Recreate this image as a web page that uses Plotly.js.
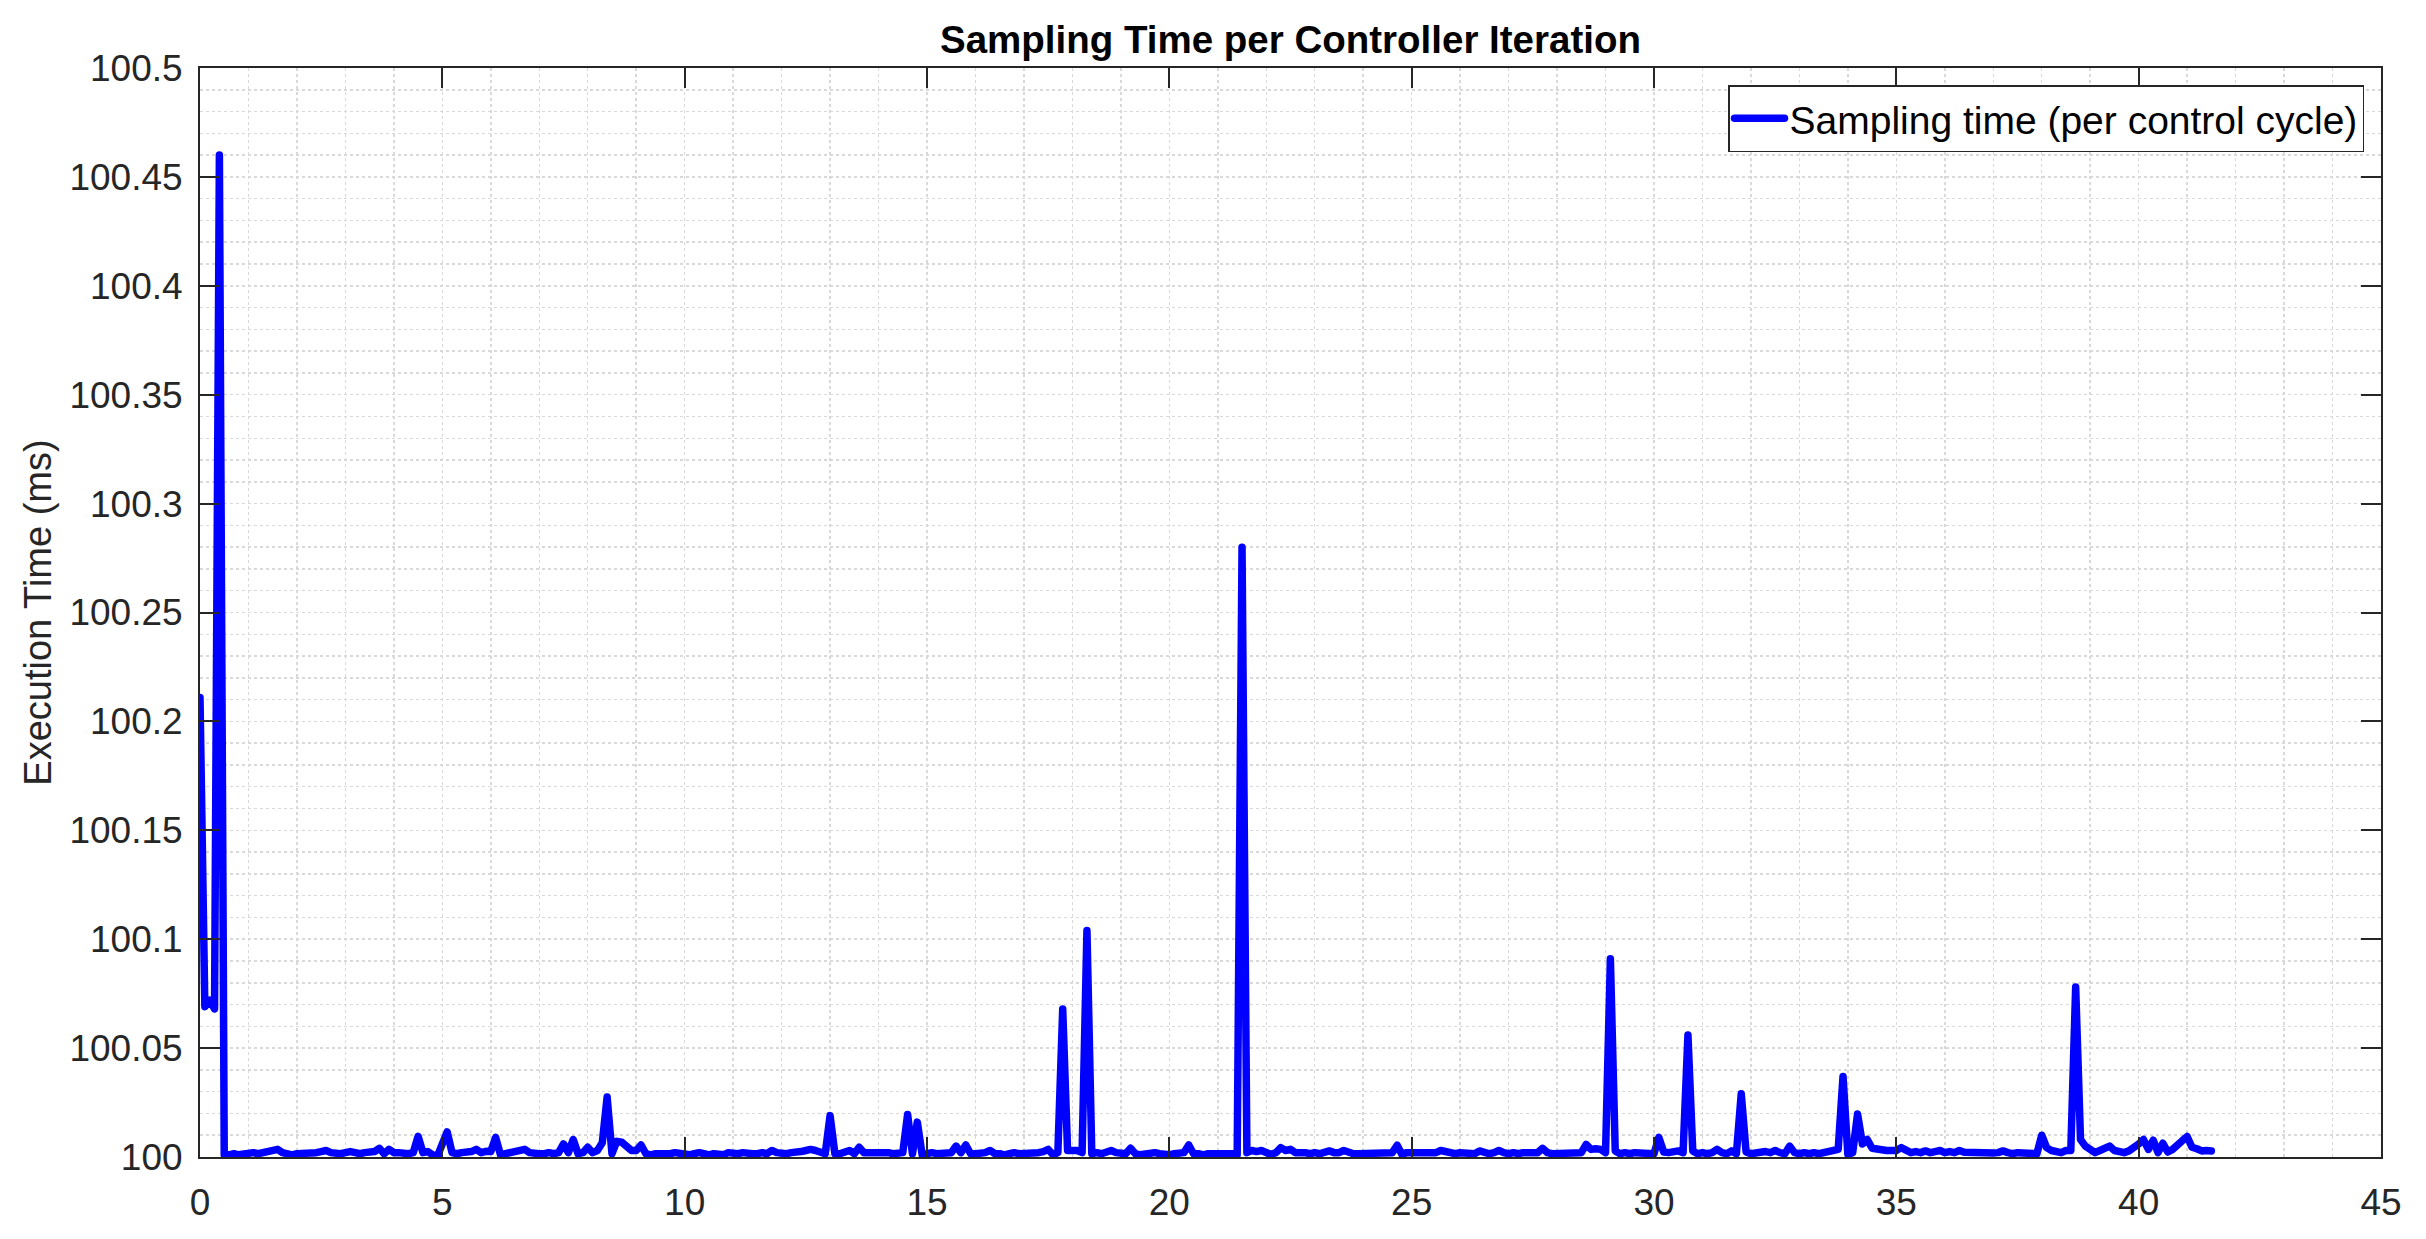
<!DOCTYPE html>
<html>
<head>
<meta charset="utf-8">
<title>Sampling Time per Controller Iteration</title>
<script src="https://cdn.plot.ly/plotly-3.0.1.min.js"></script>
<style>
  html, body { margin: 0; padding: 0; background: #fff; }
  #chart { width: 2426px; height: 1239px; }
  /* matlab draws thick lines with rounded joins */
  #chart path.js-line { stroke-linejoin: round; stroke-linecap: round; }
</style>
</head>
<body>
<div id="chart"></div>
<script>
// controller runs every 100 ms, one sample per cycle
const samplePeriod = 0.1;

// sampling time per control cycle (ms), 10 samples per line
const samplingTime = [
  100.211, 100.069, 100.072, 100.068, 100.460, 100.001, 100.001, 100.0015, 100.001, 100.0015,
  100.0015, 100.002, 100.0015, 100.002, 100.002, 100.0025, 100.0035, 100.002, 100.0015, 100.001,
  100.0015, 100.0015, 100.002, 100.0015, 100.002, 100.0025, 100.003, 100.002, 100.0015, 100.0015,
  100.002, 100.0025, 100.002, 100.0015, 100.002, 100.002, 100.0025, 100.004, 100.0015, 100.0035,
  100.002, 100.002, 100.0015, 100.0015, 100.002, 100.0095, 100.002, 100.0025, 100.001, 100.0005,
  100.006, 100.0115, 100.002, 100.0015, 100.002, 100.002, 100.0025, 100.0035, 100.002, 100.0026,
  100.0025, 100.009, 100.001, 100.0015, 100.002, 100.002, 100.0025, 100.0035, 100.002, 100.0015,
  100.0015, 100.0015, 100.002, 100.0015, 100.002, 100.006, 100.002, 100.008, 100.0015, 100.002,
  100.0045, 100.002, 100.003, 100.0065, 100.0275, 100.0015, 100.0072, 100.0068, 100.0044, 100.003,
  100.003, 100.0055, 100.0015, 100.001, 100.0015, 100.0015, 100.001, 100.0015, 100.002, 100.0015,
  100.0015, 100.001, 100.0015, 100.002, 100.0015, 100.001, 100.0015, 100.0015, 100.001, 100.002,
  100.0015, 100.0015, 100.002, 100.0015, 100.0015, 100.0015, 100.002, 100.0015, 100.003, 100.002,
  100.0015, 100.0015, 100.002, 100.002, 100.0025, 100.003, 100.0035, 100.003, 100.002, 100.0015,
  100.019, 100.0015, 100.0015, 100.002, 100.003, 100.0015, 100.0045, 100.002, 100.002, 100.002,
  100.0025, 100.002, 100.002, 100.0015, 100.002, 100.002, 100.0195, 100.0015, 100.016, 100.001,
  100.0015, 100.002, 100.0015, 100.0015, 100.002, 100.002, 100.005, 100.002, 100.0055, 100.0015,
  100.0015, 100.0015, 100.002, 100.003, 100.0015, 100.0015, 100.001, 100.0015, 100.002, 100.0015,
  100.0015, 100.002, 100.0015, 100.002, 100.0025, 100.0035, 100.001, 100.002, 100.068, 100.003,
  100.003, 100.003, 100.002, 100.104, 100.0015, 100.002, 100.0015, 100.002, 100.003, 100.002,
  100.002, 100.0015, 100.004, 100.0015, 100.001, 100.0015, 100.0015, 100.002, 100.0015, 100.001,
  100.001, 100.0015, 100.0015, 100.002, 100.0055, 100.0015, 100.0015, 100.001, 100.0015, 100.0015,
  100.0015, 100.0015, 100.002, 100.0015, 100.001, 100.280, 100.002, 100.003, 100.0025, 100.003,
  100.002, 100.0012, 100.002, 100.0043, 100.003, 100.0035, 100.002, 100.0022, 100.002, 100.0015,
  100.002, 100.0015, 100.002, 100.0028, 100.002, 100.002, 100.003, 100.002, 100.0015, 100.0015,
  100.0015, 100.002, 100.0015, 100.002, 100.0018, 100.0015, 100.002, 100.0054, 100.0012, 100.002,
  100.002, 100.0018, 100.002, 100.0015, 100.002, 100.002, 100.003, 100.0022, 100.002, 100.0015,
  100.002, 100.0018, 100.002, 100.0015, 100.0028, 100.002, 100.0015, 100.002, 100.003, 100.002,
  100.0015, 100.002, 100.0015, 100.002, 100.0018, 100.002, 100.002, 100.004, 100.002, 100.0015,
  100.0015, 100.002, 100.0018, 100.0015, 100.002, 100.002, 100.0058, 100.0035, 100.0038, 100.0035,
  100.002, 100.091, 100.0028, 100.0015, 100.002, 100.0015, 100.002, 100.002, 100.0015, 100.002,
  100.0015, 100.009, 100.0023, 100.002, 100.0025, 100.0028, 100.002, 100.056, 100.0028, 100.0015,
  100.002, 100.0015, 100.002, 100.0035, 100.002, 100.0015, 100.0028, 100.0015, 100.029, 100.0023,
  100.0015, 100.002, 100.002, 100.0025, 100.002, 100.003, 100.002, 100.0015, 100.005, 100.002,
  100.0015, 100.002, 100.0015, 100.002, 100.0015, 100.002, 100.002, 100.0028, 100.0035, 100.037,
  100.0012, 100.002, 100.0197, 100.006, 100.008, 100.004, 100.0035, 100.0035, 100.003, 100.003,
  100.003, 100.0043, 100.0028, 100.002, 100.0025, 100.002, 100.0028, 100.002, 100.0025, 100.003,
  100.002, 100.0025, 100.002, 100.003, 100.0022, 100.002, 100.0025, 100.0018, 100.002, 100.002,
  100.0018, 100.002, 100.0028, 100.002, 100.0015, 100.002, 100.0018, 100.0015, 100.002, 100.0015,
  100.010, 100.0043, 100.003, 100.0025, 100.002, 100.003, 100.003, 100.078, 100.008, 100.005,
  100.0035, 100.002, 100.003, 100.004, 100.005, 100.003, 100.0028, 100.002, 100.0028, 100.004,
  100.006, 100.008, 100.0035, 100.0077, 100.002, 100.0063, 100.0023, 100.0035, 100.005, 100.0075,
  100.0094, 100.0045, 100.0038, 100.0028, 100.003, 100.0028
];

const xTickVals = [0, 5, 10, 15, 20, 25, 30, 35, 40, 45];
const yTickVals = [100, 100.05, 100.1, 100.15, 100.2, 100.25, 100.3, 100.35, 100.4, 100.45, 100.5];
const yTickText = ['100', '100.05', '100.1', '100.15', '100.2', '100.25', '100.3', '100.35', '100.4', '100.45', '100.5'];

const axisColor = '#262626';
const gridColor = '#d9d9d9';
const fontFamily = '"Liberation Sans", Arial, Helvetica, sans-serif';

const trace = {
  type: 'scatter',
  mode: 'lines',
  name: 'Sampling time (per control cycle)',
  x0: 0,
  dx: samplePeriod,
  y: samplingTime,
  line: { color: '#0000ff', width: 7.5 }
};

// shared look of both axes (matlab style box with inner ticks)
const axisBase = {
  showline: true,
  linecolor: axisColor,
  linewidth: 2,
  mirror: 'ticks',
  ticks: 'inside',
  ticklen: 20,
  tickwidth: 2,
  tickcolor: axisColor,
  tickfont: { family: fontFamily, size: 37, color: axisColor },
  showgrid: true,
  gridcolor: gridColor,
  gridwidth: 1.5,
  griddash: 'dot',
  zeroline: false,
  fixedrange: true
};

const layout = {
  width: 2426,
  height: 1239,
  margin: { l: 200, r: 45, t: 68, b: 82 },
  paper_bgcolor: '#ffffff',
  plot_bgcolor: '#ffffff',
  font: { family: fontFamily, color: axisColor },
  title: {
    text: '<b>Sampling Time per Controller Iteration</b>',
    font: { family: fontFamily, size: 38.5, color: '#000000' },
    xref: 'paper',
    x: 0.5,
    xanchor: 'center',
    yref: 'container',
    y: 1 - 40 / 1239,
    yanchor: 'middle'
  },
  xaxis: Object.assign({}, axisBase, {
    range: [0, 45],
    tickmode: 'array',
    tickvals: xTickVals,
    ticklabelstandoff: 12,
    minor: { dtick: 1, showgrid: true, gridcolor: gridColor, gridwidth: 1.5, griddash: 'dot' }
  }),
  yaxis: Object.assign({}, axisBase, {
    range: [100, 100.5],
    tickmode: 'array',
    tickvals: yTickVals,
    ticktext: yTickText,
    ticklabelstandoff: 8,
    minor: { dtick: 0.01, showgrid: true, gridcolor: gridColor, gridwidth: 1.5, griddash: 'dot' },
    title: {
      text: 'Execution Time (ms)',
      font: { family: fontFamily, size: 38, color: axisColor },
      standoff: 6
    }
  }),
  showlegend: true,
  legend: {
    x: (2364 - 200) / 2181,
    xanchor: 'right',
    y: (1157 - 85) / 1089,
    yanchor: 'top',
    bgcolor: '#ffffff',
    bordercolor: axisColor,
    borderwidth: 1.5,
    font: { family: fontFamily, size: 39, color: '#000000' },
    itemwidth: 50
  },
  hovermode: false
};

Plotly.newPlot('chart', [trace], layout, { staticPlot: true, displayModeBar: false });
</script>
</body>
</html>
